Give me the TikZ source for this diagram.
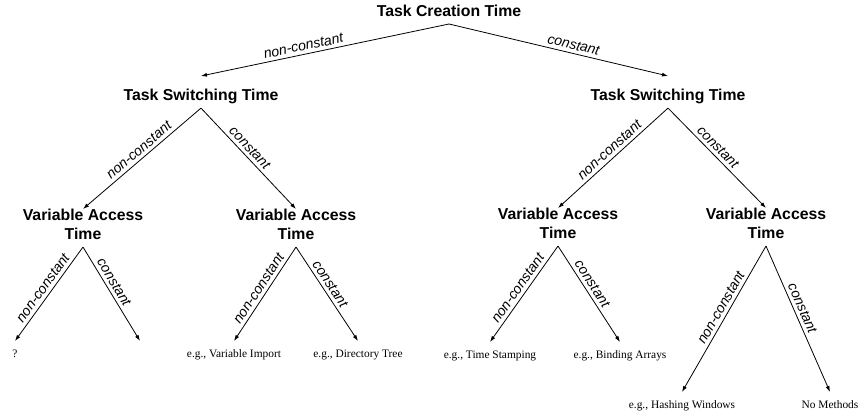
\documentclass[tikz,border=0pt]{standalone}
\usepackage{fontspec}
\setmainfont{Liberation Serif}
\setsansfont{Liberation Sans}
\usetikzlibrary{arrows.meta}

\begin{document}
\begin{tikzpicture}[x=1pt, y=-1pt, >={Latex[length=6pt,width=4pt]}, line width=0.8pt]
	\tikzstyle{crit} = [anchor=north, inner sep=0pt, align=center, font=\sffamily\bfseries\fontsize{15.8}{19}\selectfont,
		execute at begin node={\rule{0pt}{24.5pt}}, execute at end node={\rule[-6.8pt]{0pt}{6.8pt}}]
	\tikzstyle{leaf} = [anchor=north, inner sep=0pt, font=\fontsize{11.4}{14}\selectfont, execute at begin node={\rule{0pt}{16pt}}]
	\tikzstyle{lbl}  = [sloped, above, font=\sffamily\itshape\fontsize{14}{17}\selectfont]

	\useasboundingbox (0,0) rectangle (859,419);

	\node[crit, anchor=south] (root) at (449,24) {Task Creation Time};

	\foreach \name/\x/\y/\text in {tstL/201/76/Task Switching Time, tstR/668/76/Task Switching Time,
			vatLL/83/209/Variable Access\\Time, vatLR/296/209/Variable Access\\Time,
			vatRL/558/208/Variable Access\\Time, vatRR/766/208/Variable Access\\Time}
		\node[crit] (\name) at (\x,\y) {\text};

	\foreach \name/\x/\y/\text in {q/15/341/?, vimp/234/341/{e.g., Variable Import}, dtree/358/341/{e.g., Directory Tree},
			tstamp/490/342/{e.g., Time Stamping}, barr/620/342/{e.g., Binding Arrays},
			hwin/682/392/{e.g., Hashing Windows}, nometh/830/392/No Methods}
		\node[leaf] (\name) at (\x,\y) {\text};
	\coordinate (none) at (140,341);

	\foreach \from/\to/\txt/\p in {root/tstL/non-constant/0.58, root/tstR/constant/0.56,
			tstL/vatLL/non-constant/0.48, tstL/vatLR/constant/0.45,
			tstR/vatRL/non-constant/0.48, tstR/vatRR/constant/0.45,
			vatLL/q/non-constant/0.49, vatLR/vimp/non-constant/0.49, vatLR/dtree/constant/0.44,
			vatRL/tstamp/non-constant/0.49, vatRL/barr/constant/0.44,
			vatRR/hwin/non-constant/0.45, vatRR/nometh/constant/0.45}
		\path[->] (\from.south) edge node[lbl, pos=\p] {\txt} (\to.north);

	\path[->] (vatLL.south) edge node[lbl, pos=0.42] {constant} (none);
\end{tikzpicture}
\end{document}
